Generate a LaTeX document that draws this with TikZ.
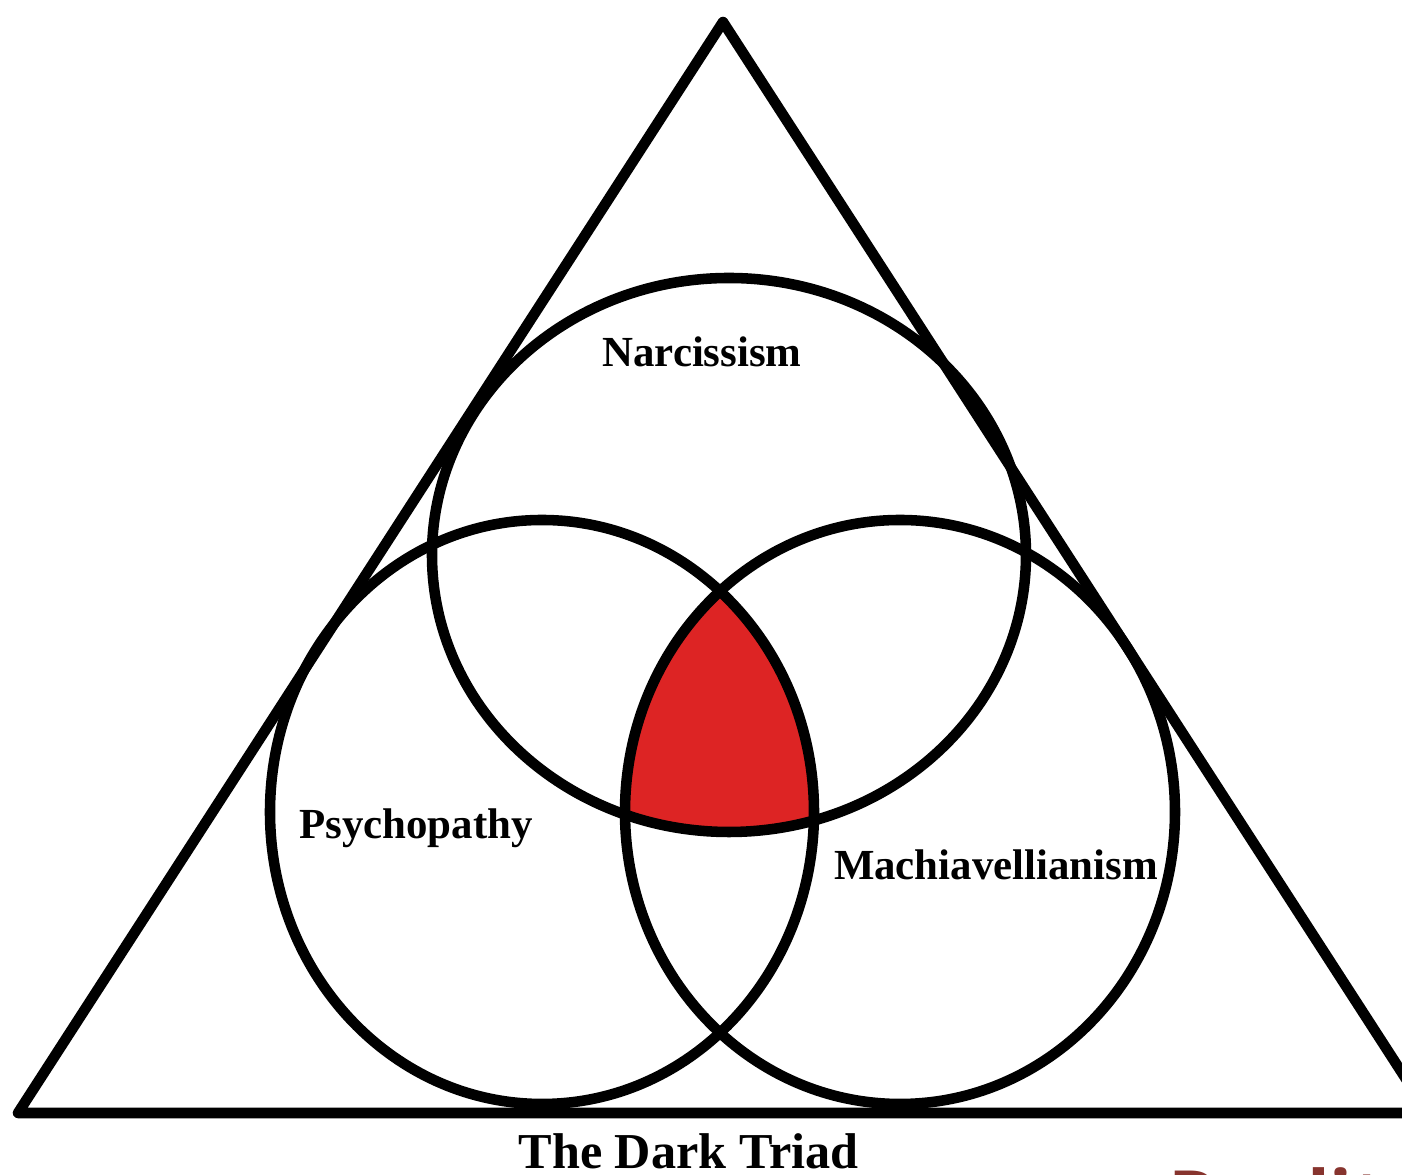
\documentclass[tikz,border=0pt]{standalone}
\usepackage{fontspec}
\setmainfont{Liberation Serif}
\newfontfamily\wmfont{Open Sans}
\definecolor{triadred}{RGB}{221,36,36}
\definecolor{wmred}{RGB}{135,52,46}
\begin{document}
\begin{tikzpicture}[line width=3pt, line join=round,
    trait/.style={font=\bfseries\fontsize{12.2}{14}\selectfont, anchor=base, inner sep=0pt},
    title/.style={font=\bfseries\fontsize{14.3}{16}\selectfont, anchor=base, inner sep=0pt}]
  \useasboundingbox (0,0) rectangle (14.02,11.75);
  % the common core
  \begin{scope}
    \clip (7.29,6.20) ellipse (2.97 and 2.77);
    \clip (5.42,3.63) ellipse (2.72 and 2.92);
    \fill[triadred] (9.00,3.63) ellipse (2.75 and 2.92);
  \end{scope}
  \draw (7.23,11.53) -- (0.18,0.62) -- (14.28,0.62) -- cycle;
  \draw (7.29,6.20) ellipse (2.97 and 2.77);
  \draw (5.42,3.63) ellipse (2.72 and 2.92);
  \draw (9.00,3.63) ellipse (2.75 and 2.92);
  \node[trait] (narc) at (7.02,8.08) {Narcissism};
  \node[trait] (psych) at (4.16,3.36) {Psychopathy};
  \node[trait] (mach) at (9.96,2.95) {Machiavellianism};
  \node[title] (triad) at (6.885,0.06) {The Dark Triad};
  \node[font=\wmfont\bfseries\fontsize{21.3}{24}\selectfont, text=wmred, anchor=base west, inner sep=0pt] (wm) at (11.63,-0.50) {Reality};
\end{tikzpicture}
\end{document}
